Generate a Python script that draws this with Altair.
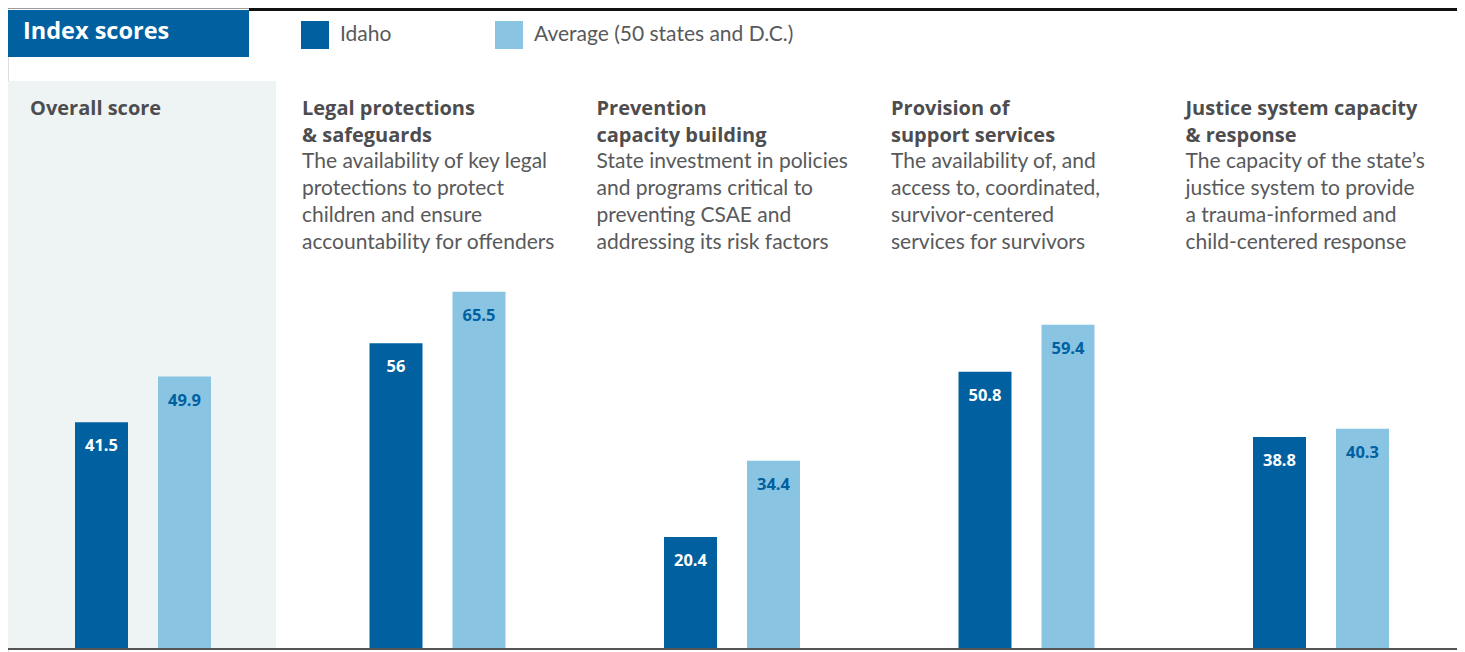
import altair as alt
import pandas as pd

# ---- data ----
categories = [
    "Overall score",
    "Legal protections & safeguards",
    "Prevention capacity building",
    "Provision of support services",
    "Justice system capacity & response",
]
series = ["Idaho", "Average (50 states and D.C.)"]
idaho = [41.5, 56, 20.4, 50.8, 38.8]
average = [49.9, 65.5, 34.4, 59.4, 40.3]

header_lines = [
    ["Overall score"],
    ["Legal protections", "& safeguards"],
    ["Prevention", "capacity building"],
    ["Provision of", "support services"],
    ["Justice system capacity", "& response"],
]
desc_lines = [
    [],
    ["The availability of key legal", "protections to protect", "children and ensure", "accountability for offenders"],
    ["State investment in policies", "and programs critical to", "preventing CSAE and", "addressing its risk factors"],
    ["The availability of, and", "access to, coordinated,", "survivor-centered", "services for survivors"],
    ["The capacity of the state\u2019s", "justice system to provide", "a trauma-informed and", "child-centered response"],
]
title_text = "Index scores"

# ---- styles ----
DARK = "#0060A0"
LIGHT = "#89C4E3"
PANEL = "#EEF4F4"
GREY_TXT = "#58595B"
HEAD_TXT = "#4D4D4F"
FONT = "Lato"
BFONT = "Open Sans"

rows = []
for c, a, b in zip(categories, idaho, average):
    rows.append({"category": c, "series": series[0], "value": a, "label": f"{a:g}"})
    rows.append({"category": c, "series": series[1], "value": b, "label": f"{b:g}"})
bars_df = pd.DataFrame(rows)

head_df = pd.DataFrame({"category": categories, "head": header_lines, "desc": desc_lines})

x_scale = alt.Scale(domain=categories, range=[-12.25, 1460.25], paddingInner=0, paddingOuter=0)
xo_scale = alt.Scale(domain=series, range=[64.25, 230.25], paddingInner=0, paddingOuter=0)
y_scale = alt.Scale(domain=[0, 100], range=[640, 96])

X = alt.X("category:N", scale=x_scale, axis=None, sort=categories)
XO = alt.XOffset("series:N", scale=xo_scale, sort=series)
Y = alt.Y("value:Q", scale=y_scale, axis=None)

base = alt.Chart(bars_df)

panel = alt.Chart(bars_df).mark_rect(color=PANEL).encode(
    x=alt.value(0), x2=alt.value(268), y=alt.value(73), y2=alt.value(640)
)

bars = base.mark_bar(width=53).encode(
    x=X, xOffset=XO, y=Y,
    color=alt.Color(
        "series:N",
        scale=alt.Scale(domain=series, range=[DARK, LIGHT]),
        sort=series,
        legend=alt.Legend(
            orient="none", legendX=293, legendY=13, direction="horizontal",
            title=None, symbolType="square", symbolSize=784, symbolStrokeWidth=0,
            labelFont=FONT, labelFontSize=21, labelColor=GREY_TXT, labelOffset=11,
            labelLimit=500, columnPadding=103, padding=0, symbolOpacity=1,
        ),
    ),
)

labels = base.mark_text(font=BFONT, fontSize=16.5, fontWeight="bold", baseline="alphabetic", dy=29).encode(
    x=X, xOffset=XO, y=Y, text="label:N",
    color=alt.condition(alt.datum.series == series[0], alt.value("#FFFFFF"), alt.value(DARK)),
)

heads_overall = alt.Chart(head_df).transform_filter(
    alt.datum.category == categories[0]
).mark_text(font=BFONT, fontSize=20, fontWeight="bold", align="left", baseline="top",
            lineHeight=27, color=HEAD_TXT, dx=-113).encode(
    x=X, y=alt.value(91), text="head"
)
heads = alt.Chart(head_df).transform_filter(
    alt.datum.category != categories[0]
).mark_text(font=BFONT, fontSize=20, fontWeight="bold", align="left", baseline="top",
            lineHeight=27, color=HEAD_TXT, dx=-135.5).encode(
    x=X, y=alt.value(91), text="head"
)
descs = alt.Chart(head_df).transform_filter(
    alt.datum.category != categories[0]
).mark_text(font=FONT, fontSize=21, align="left", baseline="top",
            lineHeight=27, color=GREY_TXT, dx=-135.5).encode(
    x=X, y=alt.value(143), text="desc"
)

baseline_rule = alt.Chart(bars_df).mark_rule(color="#555555", strokeWidth=2).encode(
    x=alt.value(0), x2=alt.value(1449), y=alt.value(641)
)

top_grey = alt.Chart(bars_df).mark_rule(color="#9A9A9A", strokeWidth=1).encode(
    x=alt.value(0), x2=alt.value(241), y=alt.value(0.5)
)
top_black = alt.Chart(bars_df).mark_rule(color="#111111", strokeWidth=3).encode(
    x=alt.value(241), x2=alt.value(1449), y=alt.value(1.5)
)
title_box = alt.Chart(bars_df).mark_rect(color=DARK).encode(
    x=alt.value(0), x2=alt.value(241), y=alt.value(2), y2=alt.value(49)
)
title_txt = alt.Chart(pd.DataFrame({"t": [title_text]})).mark_text(
    font=BFONT, fontSize=23.5, fontWeight="bold", color="#FFFFFF", align="left", baseline="alphabetic"
).encode(x=alt.value(15), y=alt.value(31), text="t:N")

chart = alt.layer(
    panel, baseline_rule, bars, labels, heads_overall, heads, descs,
    top_grey, top_black, title_box, title_txt,
).properties(
    width=1449, height=644, padding=0,
    autosize=alt.AutoSizeParams(type="none"),
).configure_view(stroke=None).configure(background="#FFFFFF")

chart.save("out.html", embed_options={"renderer": "svg", "actions": False})
